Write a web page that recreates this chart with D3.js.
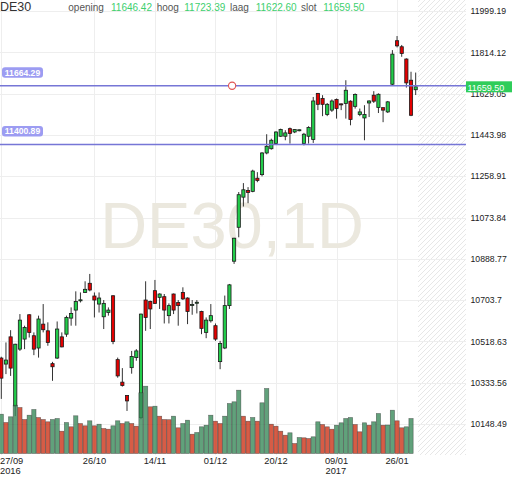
<!DOCTYPE html>
<html><head><meta charset="utf-8">
<script src="https://cdn.jsdelivr.net/npm/d3@7"></script>
<style>html,body{margin:0;padding:0;background:#fff}svg{display:block}text{font-family:"Liberation Sans",Arial,sans-serif}</style>
</head><body><svg id="c" width="512" height="477"></svg>
<script>
const dates = [
"2016-09-27","2016-09-28","2016-09-29","2016-09-30",
"2016-10-04","2016-10-05","2016-10-06","2016-10-07","2016-10-10","2016-10-11","2016-10-12","2016-10-13","2016-10-14",
"2016-10-17","2016-10-18","2016-10-19","2016-10-20","2016-10-21","2016-10-24","2016-10-25","2016-10-26","2016-10-27","2016-10-28","2016-10-31",
"2016-11-01","2016-11-02","2016-11-03","2016-11-04","2016-11-07","2016-11-08","2016-11-09","2016-11-10","2016-11-11",
"2016-11-14","2016-11-15","2016-11-16","2016-11-17","2016-11-18","2016-11-21","2016-11-22","2016-11-23","2016-11-24","2016-11-25",
"2016-11-28","2016-11-29","2016-11-30",
"2016-12-01","2016-12-02","2016-12-05","2016-12-06","2016-12-07","2016-12-08","2016-12-09","2016-12-12","2016-12-13","2016-12-14","2016-12-15","2016-12-16",
"2016-12-19","2016-12-20","2016-12-21","2016-12-22","2016-12-23","2016-12-27","2016-12-28","2016-12-29","2016-12-30",
"2017-01-02","2017-01-03","2017-01-04","2017-01-05","2017-01-06","2017-01-09","2017-01-10","2017-01-11","2017-01-12","2017-01-13",
"2017-01-16","2017-01-17","2017-01-18","2017-01-19","2017-01-20","2017-01-23","2017-01-24","2017-01-25","2017-01-26","2017-01-27",
"2017-01-30","2017-01-31","2017-02-01"];
const opens = [10444,10417,10539,10229,10484,10529,10638,10544,10489,10596,10566,10419,10444,10539,10551,10623,10659,10703,10738,10779,
10722,10686,10629,10648,10723,10437,10336,10276,10401,10446,10177,10704,10698,10746,10716,10719,10634,10731,10693,10738,
10713,10682,10690,10653,10559,10611,10589,10428,10489,10679,10878,11030,11165,11195,11191,11250,11266,11363,11382,11405,
11438,11438,11472,11457,11466,11405,11438,11423,11630,11607,11535,11555,11603,11583,11585,11595,11572,11535,11520,11587,
11622,11567,11566,11547,11671,11866,11839,11784,11689,11646.42];
const highs = [10450,10514,10569,10508,10641,10589,10640,10559,10634,10686,10604,10427,10608,10559,10634,10671,10743,10738,10788,10821,
10738,10738,10704,10671,10726,10446,10399,10278,10476,10484,10643,10788,10701,10794,10734,10731,10689,10733,10704,10761,
10716,10704,10704,10656,10626,10686,10599,10521,10724,10776,10983,11188,11228,11210,11288,11277,11367,11447,11427,11460,
11472,11465,11477,11470,11468,11453,11483,11614,11632,11622,11587,11603,11607,11585,11689,11599,11630,11562,11577,11599,
11640,11630,11567,11596,11824,11887,11847,11787,11727,11723.39];
const lows = [10261,10372,10364,10184,10476,10484,10536,10457,10446,10559,10499,10342,10440,10492,10539,10589,10589,10693,10736,10743,
10626,10648,10574,10634,10506,10356,10316,10207,10374,10432,10170,10566,10574,10687,10664,10599,10599,10641,10589,10704,
10596,10638,10644,10551,10533,10603,10521,10394,10484,10664,10866,10985,11123,11138,11187,11232,11258,11357,11378,11402,
11435,11420,11405,11452,11460,11397,11405,11408,11555,11528,11528,11547,11517,11555,11517,11487,11562,11528,11420,11524,
11587,11542,11501,11542,11667,11836,11794,11656,11528,11622.60];
const closes = [10354,10435,10399,10506,10614,10581,10559,10484,10619,10571,10514,10405,10574,10494,10626,10644,10697,10705,10752,10749,
10704,10713,10689,10659,10518,10364,10321,10252,10451,10476,10641,10626,10664,10689,10731,10659,10679,10659,10679,10709,
10653,10684,10694,10577,10614,10634,10529,10509,10679,10772,10981,11176,11198,11186,11282,11240,11363,11393,11420,11457,
11468,11453,11450,11468,11467,11447,11477,11596,11581,11581,11581,11596,11562,11581,11644,11513,11625,11547,11535,11596,
11595,11626,11555,11592,11806,11843,11809,11677,11532,11659.50];
const volumes = [39.3,31,36.7,48.3,46,34,38.3,44,36,34,31.7,34,35,22.3,31,26.7,37.7,30,27.7,32.7,
27.7,29.3,25,24.3,27.7,32.7,30,31.7,30,27.3,60.7,67.3,46.7,47.3,37.3,34,33.8,37.3,25.7,30,
33.3,19.3,21,26.7,28.3,38.3,32.3,30,37.3,50,51.7,63.3,37.3,32.3,36,32.3,50.7,65,29.3,27.3,
22.3,18.3,20.7,10,16,15.7,15,16.7,31.7,29,26.7,24.3,28.3,30.7,35,36,29,21.7,30.7,28.3,
31.7,40,28.3,28.5,43.3,32.7,25.7,26.7,35,null];
const priceTicks = [11999.19,11814.12,11629.05,11443.98,11258.91,11073.84,10888.77,10703.7,10518.63,10333.56,10148.49];
const dateTicks = ["2016-09-27","2016-10-26","2016-11-14","2016-12-01","2016-12-20","2017-01-09","2017-01-26"];
const dateTickLabels = ["27/09","26/10","14/11","01/12","20/12","09/01","26/01"];
const yearTicks = ["2016-09-27","2017-01-09"];
const yearLabels = ["2016","2017"];
const levels = [11664.29, 11400.89];
const symbol = "DE30";
const watermark = "DE30,1D";
const headerNames = ["opening","hoog","laag","slot"];
const headerValues = ["11646.42","11723.39","11622.60","11659.50"];
const markerPrice = 11664.29, markerDate = "2016-12-07";

const svg = d3.select("#c");
const plotRight = 466, plotBottom = 455;
const x = d3.scaleBand().domain(dates).range([-1.03, 418.0]).padding(0);
const bw = x.bandwidth();
const cx = d => x(d) + bw/2;
const y = d3.scaleLinear().domain([10148.49, 11999.19]).range([424, 11]);
const v = d3.scaleLinear().domain([0, 100]).range([453.5, 353.5]);

const defs = svg.append("defs");
const pat = defs.append("pattern").attr("id","hatch").attr("patternUnits","userSpaceOnUse")
  .attr("width",5).attr("height",5);
pat.append("path").attr("d","M0,5 L5,0 M-1,1 L1,-1 M4,6 L6,4").attr("stroke","#e4e4e4").attr("stroke-width",0.9);

svg.append("rect").attr("x",0).attr("y",0).attr("width",512).attr("height",477).attr("fill","#fff");
svg.append("rect").attr("x",x.range()[1]).attr("y",0).attr("width",plotRight-x.range()[1]).attr("height",plotBottom).attr("fill","url(#hatch)");

// grid
svg.append("g").selectAll("line").data(priceTicks).join("line")
  .attr("x1",0).attr("x2",plotRight).attr("y1",d=>Math.round(y(d))+0.5).attr("y2",d=>Math.round(y(d))+0.5)
  .attr("stroke","#eeeeee");
svg.append("g").selectAll("line").data(dateTicks).join("line")
  .attr("x1",d=>Math.round(cx(d))+0.5).attr("x2",d=>Math.round(cx(d))+0.5).attr("y1",0).attr("y2",plotBottom)
  .attr("stroke","#eeeeee");

// watermark
svg.append("text").attr("x",232).attr("y",248).attr("text-anchor","middle")
  .attr("font-size",65).attr("fill","#ebe8de").text(watermark);

// candles
const idx = d3.range(dates.length);
const cg = svg.append("g");
cg.selectAll("line").data(idx).join("line")
  .attr("x1",i=>cx(dates[i])).attr("x2",i=>cx(dates[i]))
  .attr("y1",i=>y(highs[i])).attr("y2",i=>y(lows[i]))
  .attr("stroke","#333").attr("stroke-width",1);
cg.selectAll("rect").data(idx).join("rect")
  .attr("x",i=>cx(dates[i])-1.6).attr("width",3.2)
  .attr("y",i=>y(Math.max(opens[i],closes[i])))
  .attr("height",i=>Math.max(1,Math.abs(y(opens[i])-y(closes[i]))))
  .attr("fill",i=>closes[i]>=opens[i]?"#22cc4a":"#e40000")
  .attr("stroke","#1a1a1a").attr("stroke-width",0.8);

// volume
const vg = svg.append("g");
vg.selectAll("rect").data(idx.filter(i=>volumes[i]!=null)).join("rect")
  .attr("x",i=>x(dates[i])+0.2).attr("width",bw-0.4)
  .attr("y",i=>v(volumes[i])).attr("height",i=>v(0)-v(volumes[i]))
  .attr("fill",i=>(i===0||volumes[i]>=volumes[i-1])?"#3a8a5a":"#cc3318")
  .attr("fill-opacity",0.8)
  .attr("stroke","#2a2a2a").attr("stroke-opacity",0.6).attr("stroke-width",0.6);

// levels
const lg = svg.append("g");
levels.forEach(L=>{
  const yy = y(L);
  lg.append("line").attr("x1",0).attr("x2",plotRight).attr("y1",yy).attr("y2",yy)
    .attr("stroke","#7676d6").attr("stroke-width",1.5);
  lg.append("rect").attr("x",2).attr("y",yy-18.6).attr("width",41).attr("height",10.5).attr("rx",3)
    .attr("fill","#9c9cf2");
  lg.append("text").attr("x",22.5).attr("y",yy-10.2).attr("text-anchor","middle")
    .attr("font-size",8.6).attr("font-weight","bold").attr("fill","#fff").text(L.toFixed(2));
});
svg.append("circle").attr("cx",cx(markerDate)-2).attr("cy",y(markerPrice)).attr("r",3.6)
  .attr("fill","#fff").attr("stroke","#e05555").attr("stroke-width",1.1);

// right axis
const ya = svg.append("g").attr("transform",`translate(${plotRight},0)`)
  .call(d3.axisRight(y).tickValues(priceTicks).tickSize(0).tickPadding(4.5).tickFormat(d=>String(d)));
ya.select(".domain").remove();
ya.selectAll("text").attr("font-size",8.7).attr("fill","#222").attr("font-family","Liberation Sans, Arial, sans-serif");

// current price tag
const lastC = closes[closes.length-1];
svg.append("rect").attr("x",plotRight).attr("y",y(lastC)-5.5).attr("width",46).attr("height",11).attr("fill","#2fcd5a");
svg.append("text").attr("x",plotRight+1.5).attr("y",y(lastC)+3.7).attr("font-size",9).attr("fill","#fff").text(lastC.toFixed(2));

// bottom axis
const xa = svg.append("g").attr("transform",`translate(0,${plotBottom})`)
  .call(d3.axisBottom(x).tickValues(dateTicks).tickSize(0).tickPadding(2)
    .tickFormat((d,i)=>dateTickLabels[i]));
xa.select(".domain").remove();
xa.selectAll("text").attr("font-size",9.3).attr("fill","#222").attr("font-family","Liberation Sans, Arial, sans-serif");
xa.selectAll(".tick").filter(d=>d===dateTicks[0]).select("text").attr("text-anchor","start").attr("x",-cx(dateTicks[0]));
yearTicks.forEach((d,i)=>{
  const first = d===dateTicks[0];
  svg.append("text").attr("x", first?0:cx(d)-11).attr("y",473.5).attr("font-size",9.3).attr("fill","#222").text(yearLabels[i]);
});

// header
svg.append("text").attr("x",0).attr("y",11).attr("font-size",12.5).attr("fill","#333").text(symbol);
const hxN = [68.3,156.7,230,301], hxV = [111,184.3,255.7,323.3];
headerNames.forEach((n,i)=>{
  svg.append("text").attr("x",hxN[i]).attr("y",10.5).attr("font-size",10).attr("fill","#555").text(n);
  svg.append("text").attr("x",hxV[i]).attr("y",10.5).attr("font-size",10).attr("fill","#3dcf6e").text(headerValues[i]);
});
</script></body></html>
